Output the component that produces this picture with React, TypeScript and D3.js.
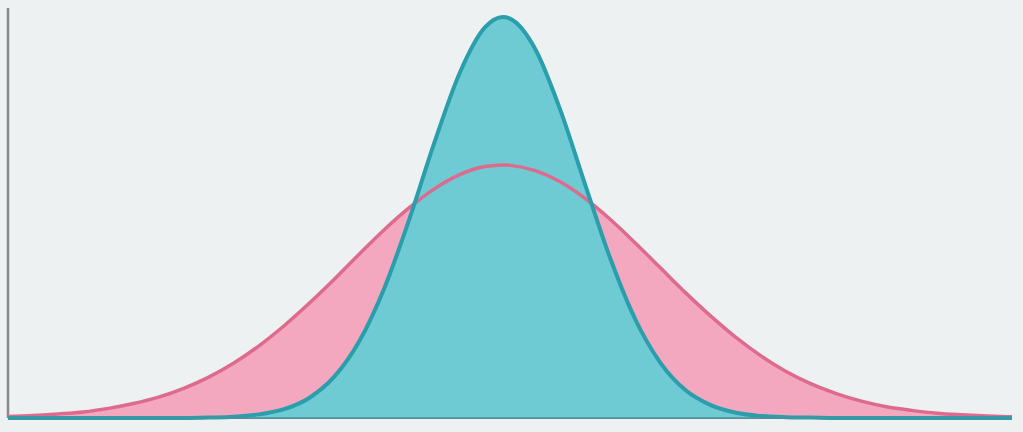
import * as d3 from 'd3';
import React from 'react';

// positions along the horizontal axis (0..100)
const xs = [0, 2.5, 5, 7.5, 10, 12.5, 15, 17.5, 20, 22.5, 25, 27.5, 30, 32.5, 35, 37.5, 40, 42.5, 45, 47.5, 49.3, 50,
  52.5, 55, 57.5, 60, 62.5, 65, 67.5, 70, 72.5, 75, 77.5, 80, 82.5, 85, 87.5, 90, 92.5, 95, 97.5, 100];

// wide pink curve
const wide = [0.004, 0.006, 0.010, 0.015, 0.024, 0.036, 0.052, 0.074, 0.102, 0.137, 0.180, 0.230, 0.286, 0.346, 0.409,
  0.470, 0.525, 0.572, 0.607, 0.627, 0.631, 0.630, 0.617, 0.589, 0.547, 0.495, 0.436, 0.374, 0.312, 0.254, 0.201, 0.155,
  0.116, 0.085, 0.061, 0.042, 0.028, 0.019, 0.012, 0.008, 0.005, 0.003];

// narrow teal curve
const narrow = [0, 0, 0, 0, 0, 0, 0, 0, 0.001, 0.003, 0.009, 0.022, 0.050, 0.103, 0.192, 0.325, 0.498, 0.689, 0.861,
  0.974, 1.0, 0.996, 0.921, 0.769, 0.581, 0.397, 0.245, 0.137, 0.069, 0.032, 0.013, 0.005, 0.002, 0.001, 0, 0, 0, 0, 0,
  0, 0, 0];

const W = 1023;
const H = 432;

const App = () => {
  const x = d3.scaleLinear().domain([0, 100]).range([8, 1012]);
  const y = d3.scaleLinear().domain([0, 1]).range([418, 17]);

  const wideData = xs.map((v, i) => ({ x: v, y: wide[i] }));
  const narrowData = xs.map((v, i) => ({ x: v, y: narrow[i] }));

  const area = d3.area<{ x: number; y: number }>()
    .x(d => x(d.x))
    .y0(y(0))
    .y1(d => y(d.y))
    .curve(d3.curveMonotoneX);

  const line = d3.line<{ x: number; y: number }>()
    .x(d => x(d.x))
    .y(d => y(d.y))
    .curve(d3.curveMonotoneX);

  return (
    <svg width={W} height={H} style={{ position: 'absolute', left: 0, top: 0 }}>
      <rect width={W} height={H} fill="#edf1f2" />
      {/* axes */}
      <line x1={x(0)} x2={x(0)} y1={8} y2={y(0)} stroke="#85898c" strokeWidth={2.5} />
      <line x1={x(0)} x2={x(100)} y1={y(0)} y2={y(0)} stroke="#6f8e96" strokeWidth={2} />

      <path d={area(wideData) || ''} fill="#f3a8c0" />
      <path d={area(narrowData) || ''} fill="#6ecbd3" />
      <path d={line(wideData) || ''} fill="none" stroke="#de6a8d" strokeWidth={3.5} />
      <path d={line(narrowData) || ''} fill="none" stroke="#2b9eac" strokeWidth={4} strokeLinejoin="round" />
      <line x1={x(0)} x2={x(100)} y1={y(0)} y2={y(0)} stroke="#4f8f9a" strokeWidth={2} opacity={0.7} />
    </svg>
  );
};

export default App;
